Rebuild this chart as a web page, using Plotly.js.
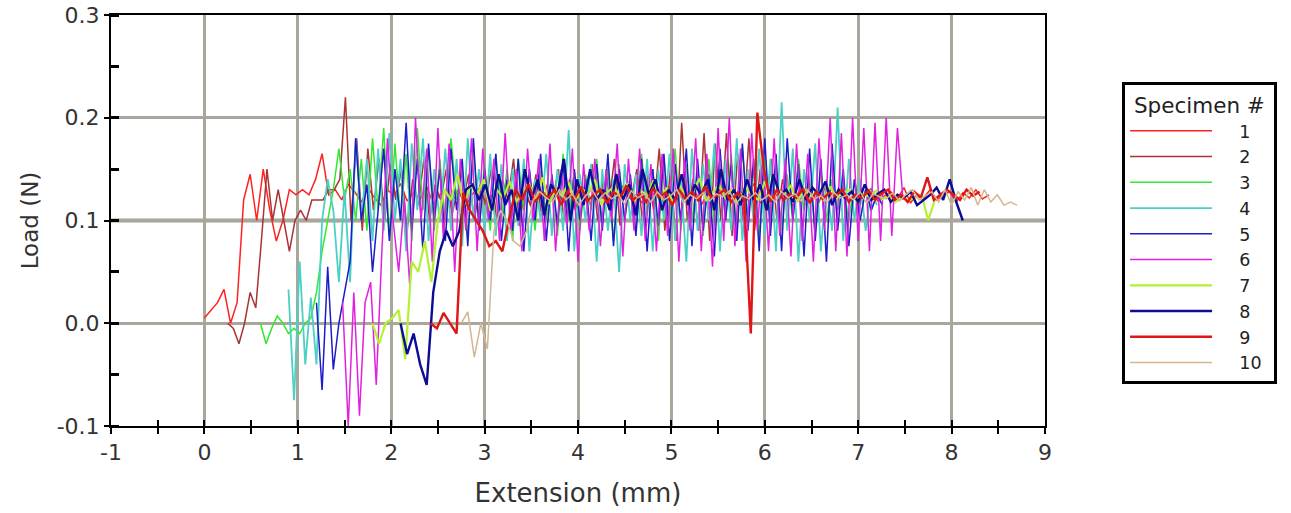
<!DOCTYPE html>
<html>
<head>
<meta charset="utf-8">
<script src="https://cdn.plot.ly/plotly-3.0.1.min.js"></script>
<style>html,body{margin:0;padding:0;background:#fff;}#chart{width:1291px;height:513px;}</style>
</head>
<body>
<div id="chart"></div>
<script>
// Specimen names
const specimenNames = ['1','2','3','4','5','6','7','8','9','10'];
// Extension where each record starts (mm) and the sampling interval (mm)
const extStart = [0, 0.25, 0.6, 0.9, 1.2, 1.48, 1.8, 2.1, 2.42, 2.75];
const extStep  = [0.07, 0.06, 0.06, 0.06, 0.06, 0.06, 0.07, 0.07, 0.07, 0.07];
// Axis tick labels
const xTickVals = [-1,0,1,2,3,4,5,6,7,8,9];
const xTickText = ['-1','0','1','2','3','4','5','6','7','8','9'];
const yTickVals = [-0.1,0,0.1,0.2,0.3];
const yTickText = ['-0.1','0.0','0.1','0.2','0.3'];

// Load readings (N)
const load1 = [0.005,0.012,0.02,0.033,0.0,0.02,0.12,0.145,0.1,0.15,0.11,0.08,0.1,0.13,0.125,0.13,0.125,0.14,0.165,0.125,0.13,0.12,0.135,
0.128,0.118,0.132,0.122,0.115,0.13,0.124,0.136,0.119,0.127,
0.121,0.133,0.116,0.125,0.13,0.12,0.128,0.114,0.126,0.131,
0.119,0.124,0.135,0.117,0.128,0.122,0.13,0.113,0.125,0.127,
0.12,0.132,0.118,0.126,0.123,0.129,0.116,0.131,0.121,0.127,
0.119,0.134,0.122,0.125,0.117,0.13,0.124,0.12,0.133,0.118,
0.126,0.121,0.129,0.115,0.127,0.123,0.131,0.119,0.125,0.128,
0.12,0.136,0.117,0.124,0.129,0.121,0.127,0.114,0.13,0.122,
0.125,0.118,0.133,0.12,0.127,0.123,0.129,0.116,0.126,0.131,
0.119,0.124,0.128,0.121,0.132,0.117,0.126,0.122,0.13,0.12,
0.125,0.128,0.118,0.127,0.122,0.13,0.121,0.125];
const load2 = [0.0,-0.005,-0.02,0.0,0.03,0.015,0.08,0.15,0.1,0.13,0.1,0.07,0.1,0.11,0.1,0.12,0.12,0.12,0.13,0.13,0.14,0.22,0.1,0.18,0.09,0.17,
0.11,0.16,0.1,0.155,0.12,0.15,0.09,0.14,0.115,0.16,0.1,0.135,0.12,0.15,0.105,0.13,0.12,0.145,0.1,0.135,
0.115,0.15,0.1,0.14,0.12,0.16,0.095,0.13,0.115,0.145,0.105,0.135,0.12,0.15,0.1,0.14,0.11,0.13,0.125,0.155,
0.1,0.14,0.115,0.16,0.095,0.135,0.12,0.15,0.1,0.145,0.11,0.17,0.09,0.15,0.08,0.195,0.1,0.14,0.09,0.185,
0.08,0.175,0.1,0.185,0.085,0.165,0.1,0.18,0.09,0.15,0.11,0.16,0.1,0.14,0.12,0.125];
const load3 = [0.0,-0.02,-0.005,0.007,0.0,-0.01,-0.005,-0.01,0.0,0.005,0.03,0.07,0.1,0.13,0.17,0.12,0.15,0.1,
0.16,0.09,0.18,0.11,0.19,0.085,0.175,0.1,0.165,0.08,0.19,0.11,0.17,0.09,0.16,0.1,0.18,0.12,0.15,0.085,0.17,0.1,
0.155,0.09,0.165,0.1,0.15,0.08,0.16,0.11,0.145,0.09,0.155,0.1,0.14,0.085,0.165,0.1,0.15,0.09,0.145,0.11,0.16,0.095,
0.15,0.08,0.155,0.1,0.14,0.09,0.165,0.105,0.15,0.08,0.16,0.1,0.17,0.09,0.155,0.1,0.145,0.085,0.16,0.095,0.15,0.1,
0.165,0.09,0.17,0.1,0.15,0.085,0.16,0.1,0.155,0.09,0.145,0.1,0.16,0.11,0.14,0.09,0.15,0.1,0.14,0.11,0.135,0.1,0.14,0.115,0.13,0.11,0.125,0.12];
const load4 = [0.033,-0.075,0.06,-0.04,0.025,-0.04,0.1,0.14,0.11,0.04,0.13,0.04,0.18,0.1,0.16,0.08,
0.17,0.09,0.185,0.1,0.16,0.07,0.175,0.11,0.18,0.08,0.15,0.1,0.17,0.09,0.16,0.075,0.18,0.1,0.15,0.09,0.165,0.085,0.155,
0.08,0.15,0.095,0.16,0.07,0.14,0.1,0.165,0.085,0.15,0.09,0.188,0.07,0.145,0.1,0.155,0.06,0.15,0.09,0.14,0.05,0.155,0.1,
0.145,0.085,0.16,0.07,0.15,0.1,0.165,0.08,0.14,0.06,0.17,0.09,0.155,0.1,0.175,0.07,0.16,0.09,0.18,0.08,0.15,0.1,0.17,
0.085,0.16,0.07,0.215,0.09,0.17,0.06,0.15,0.1,0.175,0.07,0.14,0.09,0.21,0.08,0.16,0.1,0.14,0.09,0.13,0.115];
const load5 = [0.02,-0.065,0.055,-0.045,0.0,0.03,0.06,0.18,0.1,0.135,0.05,0.11,
0.17,0.08,0.15,0.1,0.195,0.09,0.16,0.07,0.175,0.1,0.15,0.08,0.17,0.11,0.16,0.075,0.18,0.09,0.15,0.1,0.165,0.08,0.14,
0.09,0.16,0.07,0.15,0.1,0.165,0.08,0.145,0.095,0.16,0.07,0.15,0.1,0.14,0.08,0.155,0.09,0.165,0.075,0.15,0.1,0.145,0.085,
0.16,0.07,0.15,0.095,0.165,0.08,0.155,0.1,0.17,0.075,0.16,0.09,0.145,0.065,0.17,0.1,0.155,0.08,0.175,0.09,0.16,0.07,0.18,
0.085,0.165,0.07,0.18,0.1,0.155,0.065,0.17,0.08,0.16,0.06,0.175,0.09,0.15,0.075,0.14,0.1,0.13,0.11,0.125,0.115];
const load6 = [0.02,-0.1,0.03,-0.09,0.02,0.04,-0.06,0.07,0.18,0.1,0.05,0.12,
0.035,0.2,0.1,0.17,0.06,0.19,0.08,0.175,0.05,0.16,0.09,0.18,0.07,0.17,0.1,0.16,0.08,0.185,0.09,0.15,0.07,0.17,0.1,
0.16,0.08,0.175,0.07,0.15,0.095,0.17,0.06,0.155,0.09,0.16,0.075,0.15,0.1,0.175,0.065,0.16,0.09,0.17,0.08,0.155,0.07,0.165,
0.085,0.17,0.06,0.16,0.09,0.18,0.07,0.165,0.055,0.19,0.08,0.2,0.075,0.17,0.06,0.185,0.09,0.165,0.07,0.18,0.085,0.16,0.065,
0.175,0.08,0.165,0.06,0.18,0.09,0.2,0.07,0.185,0.065,0.2,0.08,0.19,0.07,0.195,0.08,0.2,0.085,0.19,0.12];
const load7 = [0.0,-0.02,0.0,0.005,0.013,-0.035,0.06,0.05,0.08,0.04,0.1,
0.13,0.12,0.145,0.115,0.135,0.125,0.14,0.11,0.13,0.122,
0.138,0.118,0.128,0.135,0.12,0.142,0.116,0.13,0.124,0.137,
0.119,0.131,0.126,0.14,0.115,0.128,0.133,0.121,0.136,0.118,
0.129,0.125,0.139,0.12,0.132,0.117,0.134,0.123,0.128,0.141,
0.119,0.127,0.135,0.122,0.13,0.116,0.133,0.125,0.12,0.138,
0.121,0.129,0.126,0.134,0.118,0.131,0.124,0.128,0.12,0.133,
0.122,0.127,0.13,0.119,0.126,0.123,0.129,0.121,0.125,0.118,
0.123,0.12,0.122,0.125,0.1,0.12];
const load8 = [0.0,-0.03,-0.01,-0.04,-0.06,0.03,0.07,0.09,0.075,0.09,0.13,0.135,0.12,
0.135,0.11,0.145,0.115,0.13,0.1,0.15,0.12,0.14,0.105,
0.135,0.125,0.16,0.1,0.14,0.115,0.15,0.12,0.13,0.11,
0.145,0.12,0.135,0.105,0.15,0.125,0.14,0.11,0.13,0.12,
0.145,0.115,0.135,0.125,0.14,0.11,0.15,0.12,0.13,0.115,
0.14,0.12,0.135,0.11,0.145,0.125,0.13,0.118,0.14,0.12,
0.132,0.125,0.138,0.115,0.13,0.122,0.128,0.118,0.135,0.12,
0.126,0.13,0.118,0.125,0.122,0.128,0.115,0.12,0.125,0.132,
0.12,0.14,0.118,0.1];
const load9 = [0.0,-0.005,0.01,0.0,-0.01,0.127,0.11,0.1,0.09,0.075,
0.08,0.07,0.1,0.13,0.12,0.135,0.118,0.127,0.122,0.13,
0.115,0.128,0.12,0.133,0.119,0.125,0.13,0.117,0.128,0.122,
0.134,0.12,0.126,0.118,0.131,0.123,0.127,0.115,0.13,0.121,
0.128,0.119,0.133,0.122,0.125,0.13,0.118,0.127,0.12,-0.01,
0.205,0.15,0.118,0.13,0.12,0.126,0.122,0.131,0.117,0.128,
0.121,0.127,0.124,0.13,0.118,0.125,0.122,0.129,0.12,0.126,
0.13,0.12,0.125,0.118,0.128,0.122,0.142,0.12,0.125,0.13,
0.125,0.12,0.13,0.124,0.128];
const load10 = [0.0,0.011,-0.033,0.0,-0.025,0.09,0.11,
0.1,0.08,0.075,0.09,0.12,0.128,0.122,0.118,0.13,0.12,
0.126,0.115,0.124,0.13,0.119,0.127,0.121,0.125,0.116,0.129,
0.122,0.126,0.118,0.128,0.12,0.124,0.13,0.117,0.125,0.121,
0.127,0.119,0.126,0.123,0.129,0.116,0.124,0.121,0.127,0.12,
0.125,0.118,0.128,0.122,0.126,0.119,0.13,0.121,0.124,0.118,
0.127,0.122,0.125,0.12,0.128,0.117,0.126,0.123,0.121,0.127,
0.119,0.125,0.13,0.12,0.124,0.128,0.118,0.13,0.115,0.128,
0.12,0.132,0.115,0.13,0.118,0.125,0.115,0.118,0.115];

const loads = [load1,load2,load3,load4,load5,load6,load7,load8,load9,load10];
const colors = ['#ff2222','#a83434','#33e833','#4cd0c4','#1c1cc8','#e022e0','#b4f034','#0c0c96','#e01616','#d4b690'];
const widths = [1.5,1.5,1.5,1.8,1.5,1.5,2.2,2.4,2.4,1.5];

const pad = '\u00a0\u00a0\u00a0\u00a0';
const traces = loads.map((ys, k) => ({
  type: 'scatter', mode: 'lines',
  name: pad + specimenNames[k],
  x: ys.map((_, i) => +(extStart[k] + i * extStep[k]).toFixed(3)),
  y: ys,
  line: {color: colors[k], width: widths[k]}
}));
// empty trace carrying the inner tick marks of the x axis
traces.push({type: 'scatter', mode: 'lines', x: [], y: [], xaxis: 'x2', yaxis: 'y', showlegend: false, hoverinfo: 'skip'});

const font = 'DejaVu Sans, Verdana, sans-serif';
const layout = {
  width: 1291, height: 513,
  margin: {l: 111, r: 246, t: 15, b: 87},
  paper_bgcolor: '#ffffff', plot_bgcolor: '#ffffff',
  font: {family: font, size: 16, color: '#333333'},
  showlegend: true,
  legend: {
    x: 1.0825, y: 0.837, xanchor: 'left', yanchor: 'top',
    bordercolor: '#000000', borderwidth: 3, bgcolor: '#ffffff',
    font: {family: font, size: 17.5, color: '#222222'},
    title: {text: '\u00a0Specimen #\u00a0', font: {family: font, size: 21.5, color: '#222222'}},
    itemwidth: 82
  },
  xaxis: {
    range: [-1, 9], tickmode: 'array', tickvals: xTickVals, ticktext: xTickText,
    showgrid: true, gridcolor: '#a9a69c', gridwidth: 3,
    zeroline: false,
    showline: true, linecolor: '#000000', linewidth: 2, mirror: true,
    ticks: 'outside', ticklen: 6, tickwidth: 2, tickcolor: '#000000',
    minor: {dtick: 0.5, ticks: 'outside', ticklen: 6, tickwidth: 2, tickcolor: '#000000', showgrid: false},
    tickfont: {family: font, size: 22, color: '#333333'},
    title: {text: 'Extension (mm)', font: {family: font, size: 26, color: '#333333'}, standoff: 19}
  },
  xaxis2: {
    range: [-1, 9], overlaying: 'x', side: 'bottom', anchor: 'y',
    dtick: 1, tick0: 0, showticklabels: false, showgrid: false, zeroline: false, showline: false,
    ticks: 'inside', ticklen: 6, tickwidth: 2, tickcolor: '#000000',
    minor: {dtick: 0.5, ticks: 'inside', ticklen: 6, tickwidth: 2, tickcolor: '#000000', showgrid: false}
  },
  yaxis: {
    range: [-0.1, 0.3], tickmode: 'array', tickvals: yTickVals, ticktext: yTickText,
    showgrid: true, gridcolor: '#a9a69c', gridwidth: 3,
    zeroline: false,
    showline: true, linecolor: '#000000', linewidth: 2, mirror: true,
    ticks: 'outside', ticklen: 5, tickwidth: 2, tickcolor: '#000000',
    minor: {dtick: 0.05, ticks: 'inside', ticklen: 8, tickwidth: 3, tickcolor: '#000000', showgrid: false},
    tickfont: {family: font, size: 22, color: '#333333'},
    title: {text: 'Load (N)', font: {family: font, size: 23, color: '#333333'}, standoff: 12}
  },
  shapes: [{
    type: 'line', xref: 'paper', yref: 'y', x0: 0, x1: 1, y0: 0.1, y1: 0.1,
    layer: 'between', line: {color: '#a09c90', width: 4}
  }]
};

Plotly.newPlot('chart', traces, layout, {staticPlot: true, displayModeBar: false});
</script>
</body>
</html>
